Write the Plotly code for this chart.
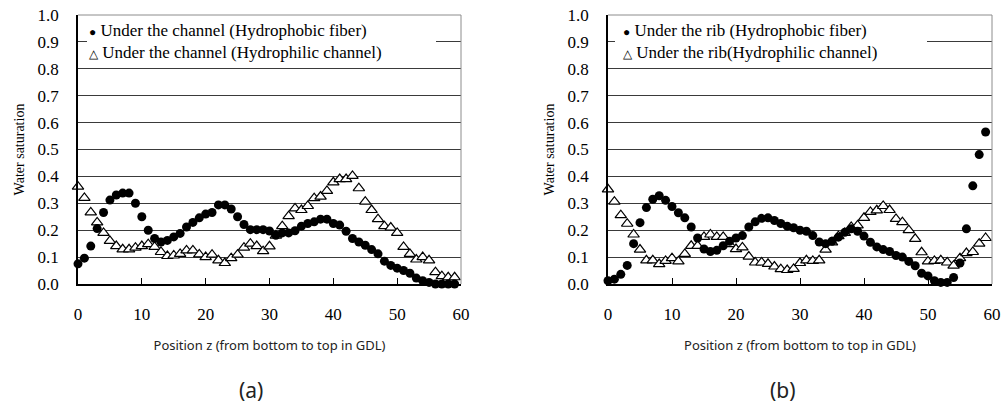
import plotly.graph_objects as go

W, H = 1004, 410

positions = list(range(60))

# (a) Under the channel
channel_fiber = [0.075, 0.096, 0.141, 0.206, 0.266, 0.312, 0.331, 0.338, 0.338, 0.300,
                 0.250, 0.200, 0.169, 0.156, 0.162, 0.175, 0.188, 0.212, 0.229, 0.246,
                 0.260, 0.266, 0.294, 0.294, 0.279, 0.250, 0.221, 0.202, 0.202, 0.202,
                 0.197, 0.181, 0.190, 0.190, 0.198, 0.215, 0.225, 0.231, 0.241, 0.241,
                 0.225, 0.219, 0.196, 0.169, 0.156, 0.144, 0.128, 0.112, 0.085, 0.069,
                 0.059, 0.050, 0.040, 0.022, 0.012, 0.006, 0.0, 0.0, 0.0, 0.0]
channel_philic = [0.362, 0.320, 0.266, 0.229, 0.190, 0.160, 0.141, 0.129, 0.129, 0.135,
                  0.141, 0.148, 0.138, 0.119, 0.104, 0.106, 0.112, 0.125, 0.125, 0.110,
                  0.100, 0.109, 0.088, 0.078, 0.096, 0.109, 0.135, 0.150, 0.141, 0.122,
                  0.140, 0.180, 0.215, 0.252, 0.281, 0.275, 0.290, 0.319, 0.325, 0.346,
                  0.378, 0.390, 0.390, 0.402, 0.356, 0.306, 0.275, 0.241, 0.215, 0.210,
                  0.190, 0.138, 0.112, 0.091, 0.100, 0.088, 0.044, 0.029, 0.025, 0.025]

# (b) Under the rib
rib_fiber = [0.012, 0.018, 0.036, 0.069, 0.150, 0.228, 0.284, 0.315, 0.328, 0.311,
             0.288, 0.265, 0.246, 0.212, 0.171, 0.130, 0.121, 0.125, 0.142, 0.159,
             0.171, 0.180, 0.212, 0.231, 0.244, 0.246, 0.236, 0.225, 0.215, 0.209,
             0.200, 0.196, 0.180, 0.156, 0.150, 0.159, 0.174, 0.192, 0.205, 0.196,
             0.178, 0.155, 0.138, 0.128, 0.121, 0.106, 0.100, 0.084, 0.068, 0.040,
             0.030, 0.012, 0.006, 0.006, 0.024, 0.078, 0.205, 0.365, 0.481, 0.565]
rib_philic = [0.352, 0.306, 0.256, 0.224, 0.184, 0.128, 0.088, 0.088, 0.074, 0.086,
              0.096, 0.084, 0.112, 0.142, 0.142, 0.175, 0.184, 0.175, 0.175, 0.148,
              0.130, 0.136, 0.102, 0.080, 0.080, 0.075, 0.065, 0.055, 0.052, 0.056,
              0.078, 0.088, 0.086, 0.088, 0.128, 0.155, 0.178, 0.190, 0.212, 0.218,
              0.246, 0.268, 0.274, 0.290, 0.275, 0.242, 0.230, 0.200, 0.168, 0.118,
              0.084, 0.086, 0.088, 0.080, 0.068, 0.096, 0.115, 0.119, 0.150, 0.171]

legend_a = ["Under the channel (Hydrophobic fiber)", "Under the channel (Hydrophilic channel)"]
legend_b = ["Under the rib (Hydrophobic fiber)", "Under the rib(Hydrophilic channel)"]
panel_labels = ["(a)", "(b)"]
x_title = "Position z (from bottom to top in GDL)"
y_title = "Water saturation"
x_ticks = [0, 10, 20, 30, 40, 50, 60]


def px(x):
    return x / W


def py(y):
    return 1 - y / H


fig = go.Figure()

panels = [
    ("x", "y", channel_philic, channel_fiber, legend_a),
    ("x2", "y2", rib_philic, rib_fiber, legend_b),
]
for xa, ya, philic, fiber, names in panels:
    fig.add_trace(go.Scatter(
        x=positions, y=philic, mode="markers", name=names[1], showlegend=False,
        xaxis=xa, yaxis=ya, cliponaxis=False,
        marker=dict(symbol="triangle-up", size=10, color="white",
                    line=dict(color="black", width=1.2))))
    fig.add_trace(go.Scatter(
        x=positions, y=fiber, mode="markers", name=names[0], showlegend=False,
        xaxis=xa, yaxis=ya, cliponaxis=False,
        marker=dict(symbol="circle", size=9, color="black",
                    line=dict(width=0))))

serif = "Liberation Serif"
ydom = [py(284), py(15)]
xdoms = [[px(78), px(461)], [px(608), px(992)]]

xcommon = dict(range=[0, 60], tickvals=x_ticks, ticks="inside", ticklen=6, tickwidth=1,
               tickcolor="black", showline=True, linecolor="black", linewidth=1.5,
               showgrid=False, zeroline=False, ticklabelstandoff=14,
               tickfont=dict(family=serif, size=17, color="black"),
               title=dict(text=x_title, font=dict(family="Noto Sans", size=13, color="#222"),
                          standoff=18))
ycommon = dict(range=[0, 1.0], dtick=0.1, tick0=0, tickformat=".1f", ticks="",
               showline=True, linecolor="black", linewidth=1.5,
               showgrid=True, gridcolor="#3a3a3a", gridwidth=1, zeroline=False,
               ticklabelstandoff=14,
               tickfont=dict(family=serif, size=17, color="black"),
               title=dict(text=y_title, font=dict(family=serif, size=14, color="black"),
                          standoff=10))

fig.update_layout(
    width=W, height=H,
    margin=dict(l=0, r=0, t=0, b=0, autoexpand=False),
    paper_bgcolor="white", plot_bgcolor="white",
    showlegend=False,
    xaxis=dict(domain=xdoms[0], anchor="y", **xcommon),
    yaxis=dict(domain=ydom, anchor="x", **ycommon),
    xaxis2=dict(domain=xdoms[1], anchor="y2", **xcommon),
    yaxis2=dict(domain=ydom, anchor="x2", **ycommon),
)

shapes = []
plot_px = [(78, 461), (608, 992)]
for (xr, yr), (ax0, ax1), (bx0, bx1) in zip(
        [("x domain", "y domain"), ("x2 domain", "y2 domain")],
        plot_px, [(87, 436), (615, 927)]):
    wd = ax1 - ax0
    # white legend box (covers the grid lines behind the legend text)
    shapes.append(dict(type="rect", xref=xr, yref=yr,
                       x0=(bx0 - ax0) / wd, x1=(bx1 - ax0) / wd,
                       y0=(284 - 67) / 269, y1=(284 - 16.5) / 269,
                       line=dict(width=0), fillcolor="white", layer="above"))
    # grey plot-area border (top and right)
    shapes.append(dict(type="line", xref=xr, yref=yr, x0=0, x1=1, y0=1, y1=1,
                       line=dict(color="#8c8c8c", width=1), layer="above"))
    shapes.append(dict(type="line", xref=xr, yref=yr, x0=1, x1=1, y0=0, y1=1,
                       line=dict(color="#8c8c8c", width=1), layer="above"))
fig.update_layout(shapes=shapes)

annotations = []
for lx, names in [(87, legend_a), (621, legend_b)]:
    txt = "<br>".join(f'<span style="font-size:12px">{sym}</span> {name}'
                      for sym, name in zip(["●", "△"], names))
    annotations.append(dict(
        x=px(lx), y=py(42), xref="paper", yref="paper",
        xanchor="left", yanchor="middle", align="left", showarrow=False,
        text=txt, font=dict(family=serif, size=17, color="black")))
for cx, lab in zip([251, 783], panel_labels):
    annotations.append(dict(x=px(cx), y=py(390), xref="paper", yref="paper",
                            xanchor="center", yanchor="middle", showarrow=False,
                            text=lab, font=dict(family="Noto Sans", size=21, color="#222")))
fig.update_layout(annotations=annotations)

fig.write_html("out.html")
